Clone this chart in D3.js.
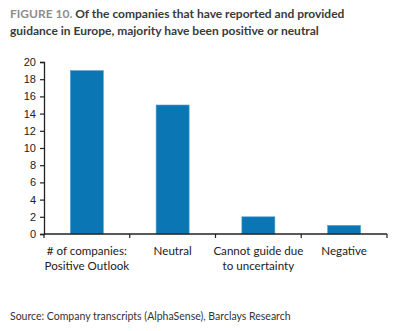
<!DOCTYPE html>
<html>
<head>
<meta charset="utf-8">
<script src="https://cdn.jsdelivr.net/npm/d3@7"></script>
<style>
  body { margin: 0; background: #fff; }
  svg { display: block; }
  .title { font-family: Lato, sans-serif; font-weight: bold; font-size: 12px; fill: #3a3a3a; }
  .title .fig { fill: #8e8e8e; }
  .y-axis text { font-family: "Liberation Sans", Arial, sans-serif; font-size: 11px; fill: #222; }
  .cat { font-family: Lato, sans-serif; font-size: 11.6px; fill: #222; }
  .source { font-family: Lato, sans-serif; font-size: 10.5px; fill: #333; }
</style>
</head>
<body>
<svg width="400" height="331"></svg>
<script>
"use strict";

const categories = [
  ["# of companies:", "Positive Outlook"],
  ["Neutral"],
  ["Cannot guide due", "to uncertainty"],
  ["Negative"]
];
const values = [19, 15, 2, 1];
const yTicks = [0, 2, 4, 6, 8, 10, 12, 14, 16, 18, 20];

const svg = d3.select("svg");
const plotLeft = 44, plotRight = 387, plotTop = 62, plotBottom = 234;

// title
const title = svg.append("text").attr("class", "title");
title.append("tspan").attr("x", 10).attr("y", 18).attr("class", "fig").text("FIGURE 10. ");
title.append("tspan").text("Of the companies that have reported and provided");
title.append("tspan").attr("x", 10).attr("y", 35)
  .text("guidance in Europe, majority have been positive or neutral");

const x = d3
  .scaleBand()
  .domain(d3.range(categories.length))
  .range([plotLeft, plotRight])
  .paddingInner(0.615)
  .paddingOuter(0.3075);

const y = d3.scaleLinear().domain([0, 20]).range([plotBottom, plotTop]);

svg
  .append("g")
  .selectAll("rect")
  .data(values)
  .enter()
  .append("rect")
  .attr("x", (d, i) => x(i))
  .attr("y", d => y(d))
  .attr("width", x.bandwidth())
  .attr("height", d => y(0) - y(d))
  .attr("fill", "#0a76b3")
  .attr("stroke", "#4fa3d4")
  .attr("stroke-width", 0.6);

// y axis
const yAxis = d3.axisLeft(y).tickValues(yTicks).tickSize(4).tickPadding(4);
const yG = svg.append("g").attr("class", "y-axis")
  .attr("transform", `translate(${plotLeft},0)`)
  .call(yAxis);
yG.select(".domain").attr("stroke", "#222").attr("stroke-width", 1.3);
yG.selectAll(".tick line").attr("stroke", "#222").attr("stroke-width", 1.2);

// x axis baseline with ticks at category boundaries
const half = (x.step() - x.bandwidth()) / 2;
const bounds = categories.map((c, i) => x(i) - half).concat([plotRight]);
const xG = svg.append("g");
xG.append("line")
  .attr("x1", plotLeft).attr("x2", plotRight)
  .attr("y1", plotBottom).attr("y2", plotBottom)
  .attr("stroke", "#222").attr("stroke-width", 1.3);
xG.selectAll(".xt")
  .data(bounds)
  .enter()
  .append("line")
  .attr("x1", d => d).attr("x2", d => d)
  .attr("y1", plotBottom).attr("y2", plotBottom + 4)
  .attr("stroke", "#222").attr("stroke-width", 1.2);

// category labels
const labels = svg.append("g")
  .selectAll("text")
  .data(categories)
  .enter()
  .append("text")
  .attr("class", "cat")
  .attr("text-anchor", "middle");
labels.each(function(lines, i) {
  const t = d3.select(this);
  lines.forEach((line, k) => {
    t.append("tspan")
      .attr("x", x(i) + x.bandwidth() / 2)
      .attr("y", 255 + k * 14.5)
      .text(line);
  });
});

svg.append("text")
  .attr("class", "source")
  .attr("x", 10)
  .attr("y", 320)
  .text("Source: Company transcripts (AlphaSense), Barclays Research");
</script>
</body>
</html>
